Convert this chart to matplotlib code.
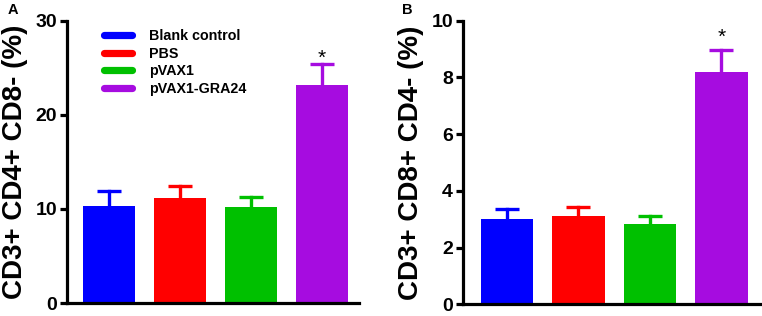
import matplotlib
matplotlib.use("Agg")
import matplotlib.pyplot as plt
from matplotlib.lines import Line2D

plt.rcParams['font.family'] = ['Liberation Sans', 'DejaVu Sans']
plt.rcParams['font.weight'] = 'bold'

groups = ['Blank control', 'PBS', 'pVAX1', 'pVAX1-GRA24']
colors = ['#0000ff', '#ff0000', '#00c000', '#a60ce0']

cd4_mean = [10.35, 11.15, 10.2, 23.2]
cd4_err = [1.5, 1.3, 1.05, 2.25]
cd8_mean = [3.0, 3.12, 2.84, 8.18]
cd8_err = [0.37, 0.32, 0.27, 0.8]

fig = plt.figure(figsize=(7.62, 3.16), dpi=100)
axA = fig.add_axes([0.0879, 0.0411, 0.3832, 0.8934])
axB = fig.add_axes([0.6072, 0.0370, 0.3902, 0.8975])


def draw_panel(ax, means, errs, ymax, ylabel, xlim, label_x, star_y):
    x = range(len(means))
    ax.bar(x, means, width=0.73, color=colors, edgecolor='none', zorder=2)
    # upper error bars only
    for xi, m, e, c in zip(x, means, errs, colors):
        ax.plot([xi, xi], [m, m + e], color=c, lw=2.4, zorder=1)
        ax.plot([xi], [m + e], marker='_', ms=17, mew=2.4, color=c, zorder=1)
    ax.text(3, star_y, '*', ha='center', va='center', fontsize=15,
            fontweight='normal')
    ax.set_xlim(*xlim)
    ax.set_ylim(0, ymax)
    ax.set_xticks([])
    ax.spines['top'].set_visible(False)
    ax.spines['right'].set_visible(False)
    ax.spines['left'].set_linewidth(2.3)
    ax.spines['bottom'].set_linewidth(2.3)
    ax.tick_params(axis='y', width=2.3, length=5, labelsize=14, pad=2)
    for t in ax.get_yticklabels():
        t.set_fontweight('bold')
    ax.set_ylabel(ylabel, fontsize=20, fontweight='bold')
    ax.yaxis.set_label_coords(label_x, 0.5)


draw_panel(axA, cd4_mean, cd4_err, 30, 'CD3+ CD4+ CD8- (%)',
           (-0.59, 3.52), -0.135, 26.0)
axA.set_yticks([0, 10, 20, 30])
draw_panel(axB, cd8_mean, cd8_err, 10, 'CD3+ CD8+ CD4- (%)',
           (-0.62, 3.54), -0.13, 9.4)
axB.set_yticks([0, 2, 4, 6, 8, 10])

handles = [Line2D([0], [0], color=c, lw=5.2, solid_capstyle='round')
           for c in colors]
axA.legend(handles, groups, loc='upper left', bbox_to_anchor=(0.101, 0.995),
           frameon=False, borderpad=0, handlelength=2.0, handletextpad=1.2,
           labelspacing=0.25, prop={'size': 10.3, 'weight': 'bold'})

fig.text(0.0105, 0.99, 'A', fontsize=10.5, fontweight='bold', va='top')
fig.text(0.527, 0.99, 'B', fontsize=10.5, fontweight='bold', va='top')

fig.savefig('out.png', dpi=100)
